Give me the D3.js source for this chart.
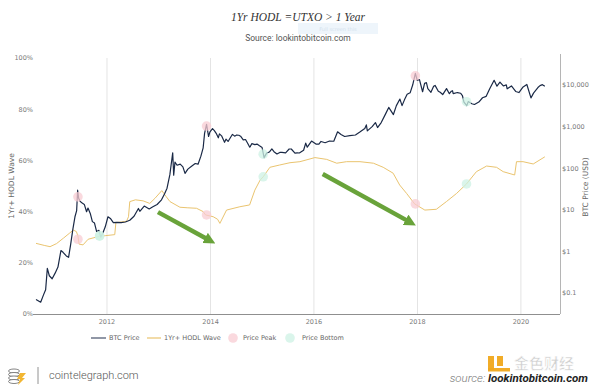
<!DOCTYPE html>
<html lang="en">
<head>
    <meta charset="UTF-8">
    <title>1Yr HODL Wave vs BTC Price</title>
    <script src="https://d3js.org/d3.v7.min.js"></script>
    <style>
        body { margin: 0; background: #fff; }
        .tick-label { font-family: "DejaVu Sans", Verdana, sans-serif; font-size: 6.5px; fill: #7a7a7a; }
        .axis-title { font-family: "DejaVu Sans", Verdana, sans-serif; font-size: 7.5px; fill: #666; }
        .legend-text { font-family: "DejaVu Sans", Verdana, sans-serif; font-size: 6.5px; fill: #666; }
    </style>
</head>
<body>
    <script>
        // BTC price (USD)
        const priceDates = ["2010-08-18","2010-09-20","2010-10-10","2010-10-25","2010-11-06","2010-11-20","2010-12-10","2010-12-31",
            "2011-01-20","2011-02-10","2011-02-25","2011-03-20","2011-04-05","2011-04-20","2011-05-05","2011-05-20","2011-06-01","2011-06-08",
            "2011-06-15","2011-06-25","2011-07-10","2011-07-25","2011-08-10","2011-08-20","2011-09-05","2011-09-20","2011-10-05","2011-10-20",
            "2011-11-05","2011-11-18","2011-12-05","2011-12-20","2012-01-08","2012-01-25","2012-02-15","2012-03-10","2012-04-10","2012-05-10",
            "2012-06-10","2012-07-10","2012-08-10","2012-08-20","2012-09-20","2012-10-25","2012-11-20","2012-12-20","2013-01-20","2013-02-10",
            "2013-02-28","2013-03-20","2013-04-09","2013-04-16","2013-04-25","2013-05-10","2013-06-01","2013-06-20","2013-07-05","2013-07-25",
            "2013-08-20","2013-09-15","2013-10-05","2013-10-25","2013-11-10","2013-11-20","2013-12-04","2013-12-18","2013-12-28","2014-01-15",
            "2014-01-28","2014-02-10","2014-02-25","2014-03-05","2014-03-20","2014-04-10","2014-04-20","2014-05-05","2014-05-25","2014-06-05",
            "2014-06-20","2014-07-05","2014-07-20","2014-08-01","2014-08-20","2014-09-05","2014-09-20","2014-10-05","2014-10-20","2014-11-10",
            "2014-11-25","2014-12-10","2014-12-31","2015-01-14","2015-02-01","2015-02-20","2015-03-10","2015-03-25","2015-04-15","2015-05-05",
            "2015-05-20","2015-06-15","2015-07-10","2015-07-25","2015-08-20","2015-09-05","2015-09-20","2015-10-20","2015-11-04","2015-11-15",
            "2015-12-15","2016-01-15","2016-02-05","2016-02-20","2016-03-20","2016-04-20","2016-05-20","2016-06-16","2016-07-10","2016-08-05",
            "2016-09-10","2016-10-20","2016-11-20","2016-12-25","2017-01-05","2017-01-12","2017-02-15","2017-03-10","2017-03-25","2017-04-20",
            "2017-05-20","2017-06-12","2017-07-15","2017-08-05","2017-08-30","2017-09-14","2017-10-01","2017-10-20","2017-11-10","2017-11-28",
            "2017-12-17","2017-12-30","2018-01-15","2018-02-06","2018-02-20","2018-03-05","2018-03-15","2018-04-06","2018-04-25","2018-05-05",
            "2018-05-28","2018-06-10","2018-06-28","2018-07-25","2018-08-14","2018-08-28","2018-09-05","2018-09-10","2018-10-10","2018-11-01",
            "2018-11-14","2018-11-25","2018-12-15","2018-12-25","2019-01-20","2019-02-07","2019-03-10","2019-04-05","2019-05-01","2019-05-25",
            "2019-06-26","2019-07-16","2019-08-06","2019-08-30","2019-09-20","2019-09-26","2019-10-26","2019-11-25","2019-12-18","2020-01-14",
            "2020-02-12","2020-03-12","2020-03-30","2020-04-30","2020-05-15","2020-06-01","2020-06-18"];
        const priceValues = [0.07,0.06,0.09,0.12,0.39,0.26,0.22,0.30,
            0.42,1.05,0.95,0.78,0.72,1.5,3.4,6.8,9.6,29.6,
            19,16,14.5,13.5,9,11,8.2,5.2,4.8,3.0,
            3.2,2.2,2.9,3.9,6.8,6.2,4.9,5.0,4.9,5.1,
            5.6,7.0,10.8,9.2,12.3,10.5,11.8,13.4,17.4,24,
            33,70,235,68,140,118,125,108,75,95,
            112,130,125,195,310,690,1130,580,750,900,
            800,690,540,670,600,420,500,440,570,650,
            590,630,620,590,480,490,400,320,390,370,
            380,350,315,180,230,245,290,250,220,240,
            240,235,290,290,230,235,232,270,400,320,
            450,380,380,440,410,450,445,750,650,580,
            610,630,740,900,1100,790,1000,1250,950,1250,
            2000,2900,1950,3200,4600,3200,4400,6000,6500,10000,
            19000,13000,13500,6900,11000,11400,8200,6700,9300,9800,
            7100,6700,5900,8200,6200,7100,7300,6200,6600,6350,
            5600,3900,3200,4000,3550,3400,3900,4950,5350,8000,
            13000,9400,11800,9500,10100,8100,9500,7000,6600,8800,
            10300,4900,6400,8700,9700,10200,9400];

        // 1Yr+ HODL wave (%)
        const hodlDates = ["2010-08-18","2010-10-15","2010-11-25","2011-01-10","2011-02-27","2011-04-10","2011-05-08","2011-05-30",
            "2011-06-10","2011-06-18","2011-07-16","2011-08-21","2011-10-01","2011-11-10","2011-12-20","2012-02-25","2012-03-04","2012-04-15",
            "2012-05-18","2012-06-01","2012-06-10","2012-07-20","2012-09-12","2012-10-29","2012-12-05","2013-01-22","2013-02-20","2013-03-21",
            "2013-05-30","2013-07-20","2013-09-24","2013-11-10","2013-11-27","2014-01-20","2014-02-20","2014-03-08","2014-04-24","2014-07-27",
            "2014-10-04","2014-11-10","2014-12-17","2015-01-08","2015-02-24","2015-05-04","2015-07-16","2015-09-24","2016-01-08","2016-03-31",
            "2016-06-10","2016-08-18","2016-11-21","2017-02-24","2017-05-04","2017-07-13","2017-08-28","2017-10-16","2017-12-12","2018-02-22",
            "2018-05-14","2018-07-24","2018-10-04","2018-12-13","2019-02-21","2019-05-04","2019-07-13","2019-08-29","2019-11-18","2019-12-01",
            "2020-01-16","2020-03-28","2020-06-18"];
        const hodlValues = [27.6,26.8,26.3,27.5,29.6,31.5,32.8,32.2,
            30.5,27.3,27.0,29.2,29.8,30.4,30.6,31.0,35.7,36.0,
            36.2,38,43.9,44.6,44.2,43.2,45.2,48.2,46,43.9,
            41.7,41.5,41.3,40,38.7,38.0,37,35.4,40.6,41.9,
            42.6,48.4,52.3,53.6,57.3,58.2,59.1,59.5,61.1,60.4,
            58.9,59.5,59.5,58.9,57.3,55.0,50.4,47.1,43.0,40.6,
            40.9,43.9,47.1,50.8,55.6,57.8,57.3,55.6,54.3,59.5,
            59.5,58.6,61.4];

        // Peak / bottom markers
        const peakDates = ["2011-06-10","2013-12-04","2017-12-17"];
        const peakPrices = [20.5,1030,16700];
        const peakHodl = [29.2,38.7,43.0];
        const bottomDates = ["2011-11-10","2015-01-08","2018-12-13"];
        const bottomPrices = [2.35,218,3970];
        const bottomHodl = [30.5,53.6,50.8];

        // Trend arrows (date, HODL %)
        const arrowStarts = [["2012-12-26",39.8],["2016-03-03",54.7]];
        const arrowEnds = [["2014-01-12",28.1],["2017-11-28",35.2]];

        const pctTicks = [0,20,40,60,80,100];
        const priceTicks = [0.1,1,10,100,1000,10000];
        const yearTicks = [2012,2014,2016,2018,2020];

        const parse = d3.timeParse("%Y-%m-%d");
        const W = 600, H = 385;
        const plot = {left: 36, right: 560, top: 58, bottom: 314};

        const svg = d3.select("body").append("svg")
            .attr("width", W)
            .attr("height", H);

        const x = d3.scaleTime()
            .domain([parse("2010-08-18"), parse("2020-10-03")])
            .range([plot.left, plot.right]);
        const yPct = d3.scaleLinear()
            .domain([0, 100])
            .range([plot.bottom, plot.top]);
        const yPrice = d3.scaleLog()
            .domain([Math.pow(10, -1.505), Math.pow(10, 4.65)])
            .range([plot.bottom, plot.top]);

        // Title
        svg.append("text")
            .attr("x", 298).attr("y", 21)
            .attr("text-anchor", "middle")
            .style("font-family", "'Liberation Serif', 'DejaVu Serif', serif")
            .style("font-style", "italic")
            .style("font-size", "11.5px")
            .style("fill", "#333")
            .text("1Yr HODL =UTXO > 1 Year");
        svg.append("rect")
            .attr("x", 298).attr("y", 23).attr("width", 80).attr("height", 11)
            .attr("fill", "#eef5fb");
        svg.append("text")
            .attr("x", 338).attr("y", 31)
            .attr("text-anchor", "middle")
            .style("font-family", "'DejaVu Sans', sans-serif")
            .style("font-size", "5px")
            .style("fill", "#d3e2ee")
            .text("Full screen this");
        svg.append("text")
            .attr("x", 298).attr("y", 41)
            .attr("text-anchor", "middle")
            .style("font-family", "Roboto, sans-serif")
            .style("font-size", "8.5px")
            .style("fill", "#555")
            .text("Source: lookintobitcoin.com");

        // Vertical year gridlines
        svg.append("g").selectAll("line")
            .data(yearTicks)
            .join("line")
            .attr("x1", d => x(new Date(d, 0, 1)))
            .attr("x2", d => x(new Date(d, 0, 1)))
            .attr("y1", plot.top)
            .attr("y2", plot.bottom)
            .attr("stroke", "#e4e4e4")
            .attr("stroke-width", 1);

        // Axes lines
        svg.append("line")
            .attr("x1", plot.left - 3).attr("x2", plot.right)
            .attr("y1", plot.bottom + 0.5).attr("y2", plot.bottom + 0.5)
            .attr("stroke", "#8f8f8f");
        svg.append("line")
            .attr("x1", plot.right + 0.5).attr("x2", plot.right + 0.5)
            .attr("y1", plot.top - 4).attr("y2", plot.bottom)
            .attr("stroke", "#b5b5b5");

        // Year labels
        svg.append("g").selectAll("text")
            .data(yearTicks)
            .join("text")
            .attr("class", "tick-label")
            .attr("x", d => x(new Date(d, 0, 1)))
            .attr("y", 323.5)
            .attr("text-anchor", "middle")
            .text(d => d);

        // Left % labels
        svg.append("g").selectAll("text")
            .data(pctTicks)
            .join("text")
            .attr("class", "tick-label")
            .attr("x", 33)
            .attr("y", d => yPct(d) + 2.3)
            .attr("text-anchor", "end")
            .text(d => d + "%");

        // Right price labels
        const fmt = d3.format(",");
        svg.append("g").selectAll("text")
            .data(priceTicks)
            .join("text")
            .attr("class", "tick-label")
            .attr("x", 562)
            .attr("y", d => yPrice(d) + 2.3)
            .text(d => "$" + fmt(d));

        svg.append("text")
            .attr("class", "axis-title")
            .attr("transform", "translate(14,186) rotate(-90)")
            .attr("text-anchor", "middle")
            .text("1Yr+ HODL Wave");
        svg.append("text")
            .attr("class", "axis-title")
            .attr("transform", "translate(588,187) rotate(-90)")
            .attr("text-anchor", "middle")
            .text("BTC Price (USD)");

        // Lines
        const hodlData = hodlDates.map((d, i) => ({date: parse(d), v: hodlValues[i]}));
        const priceData = priceDates.map((d, i) => ({date: parse(d), v: priceValues[i]}));

        svg.append("path")
            .datum(hodlData)
            .attr("fill", "none")
            .attr("stroke", "#eac46f")
            .attr("stroke-width", 1)
            .attr("d", d3.line().x(d => x(d.date)).y(d => yPct(d.v)));

        svg.append("path")
            .datum(priceData)
            .attr("fill", "none")
            .attr("stroke", "#1a2946")
            .attr("stroke-width", 1.2)
            .attr("stroke-linejoin", "round")
            .attr("d", d3.line().x(d => x(d.date)).y(d => yPrice(d.v)));

        // Markers
        const peakColor = "#f8ccd3", bottomColor = "#cdf1e4";
        const markers = [];
        peakDates.forEach((d, i) => {
            markers.push({date: parse(d), y: yPrice(peakPrices[i]), c: peakColor});
            markers.push({date: parse(d), y: yPct(peakHodl[i]), c: peakColor});
        });
        bottomDates.forEach((d, i) => {
            markers.push({date: parse(d), y: yPrice(bottomPrices[i]), c: bottomColor});
            markers.push({date: parse(d), y: yPct(bottomHodl[i]), c: bottomColor});
        });
        svg.append("g").selectAll("circle")
            .data(markers)
            .join("circle")
            .attr("cx", d => x(d.date))
            .attr("cy", d => d.y)
            .attr("r", 4.8)
            .attr("fill", d => d.c)
            .attr("opacity", 0.75);

        // Green trend arrows
        svg.append("defs").append("marker")
            .attr("id", "head")
            .attr("viewBox", "0 0 10 10")
            .attr("refX", 2).attr("refY", 5)
            .attr("markerWidth", 2.6).attr("markerHeight", 2.6)
            .attr("orient", "auto")
            .append("path")
            .attr("d", "M0,0 L10,5 L0,10 z")
            .attr("fill", "#69a33a");
        svg.append("g").selectAll("line")
            .data(arrowStarts.map((s, i) => [s, arrowEnds[i]]))
            .join("line")
            .attr("x1", d => x(parse(d[0][0])))
            .attr("y1", d => yPct(d[0][1]))
            .attr("x2", d => x(parse(d[1][0])) - 5)
            .attr("y2", d => yPct(d[1][1]) - 3)
            .attr("stroke", "#69a33a")
            .attr("stroke-width", 4.5)
            .attr("marker-end", "url(#head)");

        // Legend
        const lg = svg.append("g");
        lg.append("line").attr("x1", 91).attr("x2", 106).attr("y1", 338).attr("y2", 338)
            .attr("stroke", "#1a2946").attr("stroke-width", 1.2).attr("opacity", 0.8);
        lg.append("text").attr("class", "legend-text").attr("x", 109).attr("y", 340.3).text("BTC Price");
        lg.append("line").attr("x1", 147).attr("x2", 161).attr("y1", 338).attr("y2", 338)
            .attr("stroke", "#eac46f").attr("stroke-width", 1.2);
        lg.append("text").attr("class", "legend-text").attr("x", 164).attr("y", 340.3).text("1Yr+ HODL Wave");
        lg.append("circle").attr("cx", 233).attr("cy", 338).attr("r", 4.8).attr("fill", peakColor).attr("opacity", 0.75);
        lg.append("text").attr("class", "legend-text").attr("x", 243).attr("y", 340.3).text("Price Peak");
        lg.append("circle").attr("cx", 290).attr("cy", 338).attr("r", 4.8).attr("fill", bottomColor).attr("opacity", 0.75);
        lg.append("text").attr("class", "legend-text").attr("x", 302).attr("y", 340.3).text("Price Bottom");

        // Footer: cointelegraph
        const logo = svg.append("g").attr("transform", "translate(16,376)");
        [-5, -1.5, 2, 5.5].forEach(dy => {
            logo.append("ellipse").attr("cx", -2).attr("cy", dy).attr("rx", 5.5).attr("ry", 2)
                .attr("fill", "#fff").attr("stroke", "#777").attr("stroke-width", 0.9);
        });
        logo.append("path")
            .attr("d", "M4,-3 L10,-3 L6,2 L9,2 L2,9 L4,3 L1,3 Z")
            .attr("fill", "#f2b632");
        svg.append("line").attr("x1", 38).attr("x2", 38).attr("y1", 367).attr("y2", 384)
            .attr("stroke", "#777").attr("stroke-width", 0.8);
        svg.append("text")
            .attr("x", 49).attr("y", 379)
            .style("font-family", "Roboto, 'Open Sans', sans-serif")
            .style("font-weight", 300)
            .style("font-size", "11px")
            .style("fill", "#555")
            .text("cointelegraph.com");

        // Footer: source
        const src = svg.append("text")
            .attr("x", 588).attr("y", 382)
            .attr("text-anchor", "end")
            .style("font-family", "Roboto, 'Open Sans', sans-serif")
            .style("font-size", "11.5px")
            .style("font-style", "italic");
        src.append("tspan").style("fill", "#777").style("font-weight", 300).text("source: ");
        src.append("tspan").style("fill", "#222").style("font-weight", 700).text("lookintobitcoin.com");

        // Watermark
        svg.append("rect").attr("x", 488).attr("y", 356).attr("width", 6).attr("height", 14).attr("fill", "#f0a81c").attr("opacity", 0.95);
        svg.append("rect").attr("x", 497).attr("y", 356).attr("width", 6).attr("height", 10).attr("fill", "#f0a81c").attr("opacity", 0.95);
        svg.append("rect").attr("x", 488).attr("y", 368).attr("width", 22).attr("height", 3.5).attr("fill", "#f0a81c").attr("opacity", 0.95);
        svg.append("text")
            .attr("x", 514).attr("y", 369)
            .style("font-family", "'Noto Sans CJK SC', sans-serif")
            .style("font-size", "15px")
            .style("font-weight", 700)
            .style("fill", "#c8c8c8")
            .style("stroke", "#fff")
            .style("stroke-width", 0.6)
            .attr("opacity", 0.85)
            .text("金色财经");
    </script>
</body>
</html>
